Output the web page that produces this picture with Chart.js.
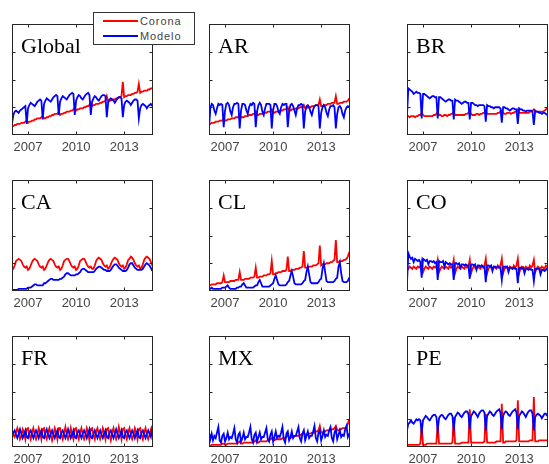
<!DOCTYPE html>
<html>
<head>
<meta charset="utf-8">
<script src="https://cdn.jsdelivr.net/npm/chart.js@4.4.1/dist/chart.umd.min.js"></script>
<style>
  body { margin: 0; background: #fff; }
  #wrap { position: relative; width: 549px; height: 464px; overflow: hidden; background: #fff; }
  #wrap canvas { position: absolute; }
  .name { position: absolute; font-family: 'Liberation Serif', 'Times New Roman', serif; font-size: 22px; line-height: 22px; color: #000; }
  #legend { position: absolute; left: 93px; top: 12px; width: 100px; height: 31px; border: 1px solid #333; background: #fff; z-index: 5;
            font-family: 'Liberation Sans', Arial, sans-serif; font-size: 11px; letter-spacing: 0.9px; color: #444; }
  #legend .ln { position: absolute; left: 9px; width: 35px; height: 2px; }
  #legend .tx { position: absolute; left: 46px; line-height: 12px; }
</style>
</head>
<body>
<div id="wrap">
  <div id="legend">
    <span class="ln" style="top:7px;background:#ff0000"></span><span class="tx" style="top:2px">Corona</span>
    <span class="ln" style="top:22px;background:#0000ff"></span><span class="tx" style="top:17px">Modelo</span>
  </div>
</div>
<script>
// anos e ticks do eixo x
const years = [2006, 2007, 2008, 2009, 2010, 2011, 2012, 2013, 2014];
const tickYears = [2007, 2010, 2013];
const regions = ['Global', 'AR', 'BR', 'CA', 'CL', 'CO', 'FR', 'MX', 'PE'];

// valores mensais (jan/2006 - out/2014), escala 0-100
const coronaGlobal = [
  8,8,9,9,10,10,10,11,11,11,12,13,
  11,12,12,13,13,14,14,15,15,15,16,17,
  15,15,16,16,17,17,18,18,19,19,19,21,
  18,19,19,20,20,21,21,21,22,22,23,25,
  22,23,23,24,24,24,25,25,26,26,27,29,
  26,27,27,28,28,28,29,29,30,30,31,35,
  30,31,31,32,32,32,33,33,34,34,35,48,
  34,35,35,36,36,36,37,37,38,38,39,46,
  38,39,39,40,40,40,41,41,42,42
];
const modeloGlobal = [
  10,18,21,22,21,20,22,23,24,25,26,10,
  24,27,29,28,27,26,28,30,31,32,31,14,
  28,31,33,32,31,30,32,34,35,36,35,18,
  30,33,35,34,33,32,34,36,37,38,37,18,
  31,34,36,35,33,32,34,36,37,38,36,18,
  30,33,35,34,32,31,33,35,36,36,35,16,
  29,32,33,32,31,29,31,33,34,34,33,16,
  27,30,31,30,29,27,29,31,32,32,31,15,
  24,27,28,27,26,24,26,27,28,26
];
const coronaAR = [
  10,10,11,11,11,12,12,12,13,13,13,15,
  13,13,14,14,14,15,15,15,16,16,16,18,
  16,16,16,17,17,17,18,18,18,19,19,21,
  18,18,19,19,19,20,20,20,21,21,21,23,
  20,20,21,21,21,22,22,22,23,23,23,25,
  22,22,23,23,23,24,24,24,25,25,25,27,
  24,24,25,25,25,26,26,26,27,27,27,32,
  26,26,27,27,27,28,28,28,29,29,29,35,
  28,28,29,29,29,30,30,30,31,33
];
const modeloAR = [
  6,24,28,27,22,19,24,28,27,28,27,7,
  22,28,29,27,21,18,25,28,28,29,28,6,
  22,28,28,27,22,19,25,28,27,29,28,7,
  21,27,29,27,21,18,24,28,28,28,27,6,
  22,28,28,26,21,19,25,28,27,28,28,7,
  21,27,28,26,22,18,24,27,27,28,27,6,
  21,26,27,25,21,18,23,26,27,27,26,6,
  20,25,27,25,20,17,23,26,26,27,25,6,
  19,25,26,24,19,16,22,25,26,25
];
const coronaBR = [
  17,17,16,17,17,17,16,17,17,18,18,20,
  18,17,17,17,17,17,17,17,18,18,19,21,
  18,18,17,17,18,18,17,18,18,19,19,21,
  18,18,18,18,18,18,18,18,19,19,20,22,
  19,18,18,18,19,19,18,19,19,20,20,22,
  19,19,19,19,19,19,19,19,20,20,21,22,
  20,19,19,20,20,20,19,20,20,21,21,23,
  20,20,20,20,20,20,20,20,21,21,22,23,
  21,21,21,21,21,21,21,22,23,24
];
const modeloBR = [
  18,42,41,40,39,37,38,39,38,38,37,15,
  37,37,36,35,34,33,34,35,35,34,34,15,
  34,34,33,32,31,30,31,32,32,31,31,14,
  32,31,31,30,29,28,29,30,30,29,29,14,
  29,29,28,27,27,26,27,27,27,27,26,12,
  27,26,26,25,25,24,25,25,25,25,24,11,
  25,25,24,24,23,22,23,24,24,23,23,10,
  24,23,23,22,22,21,22,22,22,22,21,9,
  22,21,21,20,20,19,20,20,19,18
];
const coronaCA = [
  19,20,23,27,28,29,28,27,24,22,21,22,
  19,20,23,26,28,29,28,27,24,22,21,22,
  19,20,23,26,28,29,28,27,24,22,21,22,
  19,20,23,27,28,29,29,27,24,22,21,22,
  19,20,23,27,28,29,29,27,24,22,21,22,
  20,20,23,27,29,30,29,28,25,23,22,23,
  20,21,24,27,29,30,29,28,25,23,22,23,
  20,21,24,28,29,31,30,28,25,23,22,23,
  20,21,24,28,30,31,30,29,26,23
];
const modeloCA = [
  1,1,1,1,1,2,2,2,2,2,2,2,
  3,3,3,4,5,6,6,5,5,5,5,5,
  7,7,8,9,10,11,11,10,10,10,10,10,
  11,11,12,13,15,16,16,15,14,14,14,14,
  15,15,16,17,19,20,20,19,18,17,17,17,
  17,17,18,20,21,22,22,21,20,19,19,18,
  18,18,19,21,23,24,24,23,21,20,19,18,
  18,18,19,21,24,25,25,23,21,20,19,19,
  19,19,20,22,24,25,24,23,21,18
];
const coronaCL = [
  5,5,6,6,6,6,7,7,7,7,8,14,
  8,8,8,8,9,9,9,9,10,10,10,17,
  10,10,10,11,11,11,11,12,12,12,13,21,
  12,12,13,13,13,14,14,14,15,15,16,27,
  15,15,16,16,17,17,17,18,18,18,19,31,
  18,18,19,19,19,20,20,20,21,21,22,36,
  21,21,21,22,22,22,23,23,23,24,25,41,
  23,24,24,24,25,25,25,26,26,27,28,46,
  26,26,27,27,27,28,28,29,31,35
];
const modeloCL = [
  2,2,3,2,2,2,2,2,2,2,3,3,
  3,4,5,3,2,2,2,2,2,3,3,4,
  4,6,7,5,3,3,3,3,3,3,4,5,
  5,8,10,7,4,4,4,4,4,4,5,6,
  7,11,14,10,6,5,5,5,5,5,6,8,
  9,14,18,13,7,6,6,6,6,6,7,9,
  10,17,22,15,8,7,7,7,7,7,8,10,
  11,20,25,17,9,8,8,8,8,8,9,11,
  12,22,26,16,9,8,8,8,9,12
];
const coronaCO = [
  21,20,22,21,20,22,21,20,22,21,22,27,
  17,20,22,21,20,22,21,20,22,21,22,28,
  17,20,22,21,20,22,21,20,23,21,22,28,
  16,20,22,21,20,22,21,20,23,21,22,28,
  16,20,22,21,20,22,21,20,23,21,23,29,
  16,20,22,21,20,22,21,20,23,21,23,29,
  16,20,22,21,20,22,21,20,23,21,23,29,
  16,20,22,21,20,22,21,20,23,21,23,28,
  17,20,22,21,20,22,21,20,23,22
];
const modeloCO = [
  7,34,31,29,30,26,29,28,27,28,26,12,
  29,28,27,28,24,27,27,26,27,25,26,10,
  27,26,26,27,22,26,25,24,25,24,24,10,
  25,25,24,25,21,24,24,23,24,23,23,11,
  24,24,23,24,19,23,23,22,23,22,22,8,
  23,23,22,23,18,22,22,21,22,21,21,10,
  22,22,21,22,17,21,21,20,21,20,20,7,
  21,21,20,21,16,20,20,19,20,19,19,9,
  20,20,20,20,15,19,19,18,19,21
];
const coronaFR = [
  14,11,9,13,17,13,7,10,16,13,7,16,
  17,11,7,13,17,11,7,11,17,13,7,16,
  17,10,7,13,17,11,6,11,17,13,7,17,
  17,11,7,13,18,11,7,11,17,11,7,16,
  17,11,7,13,17,11,7,11,17,13,6,16,
  17,11,7,14,17,11,7,11,17,13,7,16,
  17,11,6,13,17,11,7,11,18,13,7,16,
  17,11,7,13,17,11,7,11,17,13,7,16,
  17,11,7,13,17,11,7,11,16,19
];
const modeloFR = [
  9,13,15,11,8,12,16,12,8,11,15,9,
  8,13,15,11,8,12,15,12,8,12,15,9,
  8,13,16,11,8,12,15,11,8,12,15,9,
  8,13,15,11,8,12,16,12,8,11,15,9,
  8,13,15,11,8,12,15,12,8,12,16,9,
  8,12,15,11,8,12,15,11,8,12,15,9,
  8,13,15,11,8,12,16,12,8,11,15,9,
  8,13,15,11,8,12,15,12,8,12,15,9,
  8,13,15,11,8,12,15,12,9,16
];
const coronaMX = [
  1,1,2,2,2,2,2,2,2,2,3,3,
  2,2,3,3,3,3,3,3,3,3,4,5,
  3,3,4,4,4,4,4,4,4,4,5,6,
  4,4,5,5,5,5,5,5,6,6,7,8,
  6,6,7,7,7,7,7,8,8,8,9,11,
  8,8,9,9,10,10,10,10,11,11,12,14,
  11,11,12,12,12,13,13,13,14,14,15,19,
  13,13,14,14,15,15,15,15,16,16,17,19,
  15,15,16,16,17,17,17,18,21,25
];
const modeloMX = [
  13,7,12,6,10,8,13,18,6,4,10,12,
  5,8,13,7,9,8,12,17,7,4,11,13,
  5,8,13,7,9,9,13,18,7,4,11,13,
  5,9,13,7,9,9,13,17,7,5,11,14,
  5,9,14,8,10,9,13,18,7,4,12,14,
  6,9,14,8,10,10,14,18,8,5,12,15,
  6,10,14,8,10,10,14,19,8,5,13,15,
  6,10,15,9,11,10,15,18,8,5,13,16,
  7,11,15,9,11,10,16,19,9,12
];
const coronaPE = [
  2,2,2,2,2,2,2,2,2,2,3,21,
  2,2,2,3,3,3,3,3,3,3,3,22,
  3,3,3,3,3,3,3,3,3,3,4,27,
  3,3,3,3,3,4,4,4,4,4,4,34,
  4,4,4,4,4,4,4,4,4,4,5,30,
  4,4,4,4,4,4,4,5,5,5,5,39,
  4,4,5,5,5,5,5,5,5,5,6,42,
  5,5,5,5,5,5,5,5,6,6,6,45,
  5,5,5,6,6,6,6,6,6,6
];
const modeloPE = [
  15,21,22,24,22,21,23,25,24,25,24,13,
  24,26,28,27,25,24,26,28,29,29,27,15,
  26,28,29,28,26,25,27,29,30,30,28,16,
  27,29,31,30,28,27,29,31,32,32,30,16,
  28,30,32,31,29,27,30,32,33,33,31,15,
  28,30,32,31,29,28,30,32,33,34,31,16,
  28,31,32,31,29,28,30,32,33,34,31,16,
  28,30,32,31,29,27,30,32,33,33,30,15,
  27,29,30,29,28,26,28,30,30,28
];

const corona = [coronaGlobal, coronaAR, coronaBR, coronaCA, coronaCL, coronaCO, coronaFR, coronaMX, coronaPE];
const modelo = [modeloGlobal, modeloAR, modeloBR, modeloCA, modeloCL, modeloCO, modeloFR, modeloMX, modeloPE];

// eixo do tempo em anos decimais
const times = [];
years.forEach(y => { for (let m = 0; m < 12; m++) times.push(y + m / 12); });

const toPoints = vals => vals.map((v, i) => ({ x: times[i], y: v }));

// posicao das caixas
const colLeft = [12, 209, 407];
const rowTop = [24, 180, 336];
const boxW = 141, boxH = 111;
const padL = 20, padR = 20, padT = 4, axisH = 24;

// moldura com marcas para dentro (estilo matlab)
const framePlugin = {
  id: 'frame',
  afterDraw(chart) {
    const { ctx, chartArea: a, scales: { x, y } } = chart;
    const L = Math.round(a.left) + 0.5, R = Math.round(a.right) - 0.5;
    const T = Math.round(a.top) + 0.5, B = Math.round(a.bottom) - 0.5;
    ctx.save();
    ctx.strokeStyle = '#262626';
    ctx.lineWidth = 1;
    ctx.strokeRect(L, T, R - L, B - T);
    ctx.beginPath();
    tickYears.forEach(v => {
      const px = Math.round(x.getPixelForValue(v)) + 0.5;
      ctx.moveTo(px, B); ctx.lineTo(px, B - 3);
      ctx.moveTo(px, T); ctx.lineTo(px, T + 3);
    });
    [25, 50, 75].forEach(v => {
      const py = Math.round(y.getPixelForValue(v)) + 0.5;
      ctx.moveTo(L, py); ctx.lineTo(L + 3, py);
      ctx.moveTo(R, py); ctx.lineTo(R - 3, py);
    });
    ctx.stroke();
    ctx.restore();
  }
};

const wrap = document.getElementById('wrap');

regions.forEach((name, k) => {
  const bx = colLeft[k % 3], by = rowTop[Math.floor(k / 3)];
  const canvas = document.createElement('canvas');
  canvas.width = boxW + padL + padR;
  canvas.height = boxH + padT + axisH;
  canvas.style.left = (bx - padL) + 'px';
  canvas.style.top = (by - padT) + 'px';
  wrap.appendChild(canvas);

  const label = document.createElement('div');
  label.className = 'name';
  label.textContent = name;
  label.style.left = (bx + 9) + 'px';
  label.style.top = (by + 11) + 'px';
  wrap.appendChild(label);

  new Chart(canvas.getContext('2d'), {
    type: 'line',
    data: {
      datasets: [
        { label: 'Modelo', data: toPoints(modelo[k]), borderColor: '#0000ff' },
        { label: 'Corona', data: toPoints(corona[k]), borderColor: '#ff0000' }
      ]
    },
    options: {
      responsive: false,
      animation: false,
      layout: { padding: { left: padL, right: padR, top: padT, bottom: 0 } },
      elements: { point: { radius: 0 }, line: { borderWidth: 1.8, tension: 0 } },
      plugins: { legend: { display: false }, tooltip: { enabled: false } },
      scales: {
        x: {
          type: 'linear', min: 2006, max: 2014.8,
          grid: { display: false, drawTicks: false }, border: { display: false },
          afterBuildTicks: s => { s.ticks = tickYears.map(v => ({ value: v })); },
          afterFit: s => { s.height = axisH; },
          ticks: {
            autoSkip: false, maxRotation: 0, padding: 5, color: '#444',
            font: { family: 'Liberation Sans', size: 13 },
            callback: v => String(v)
          }
        },
        y: { display: false, min: 0, max: 100 }
      }
    },
    plugins: [framePlugin]
  });
});
</script>
</body>
</html>
